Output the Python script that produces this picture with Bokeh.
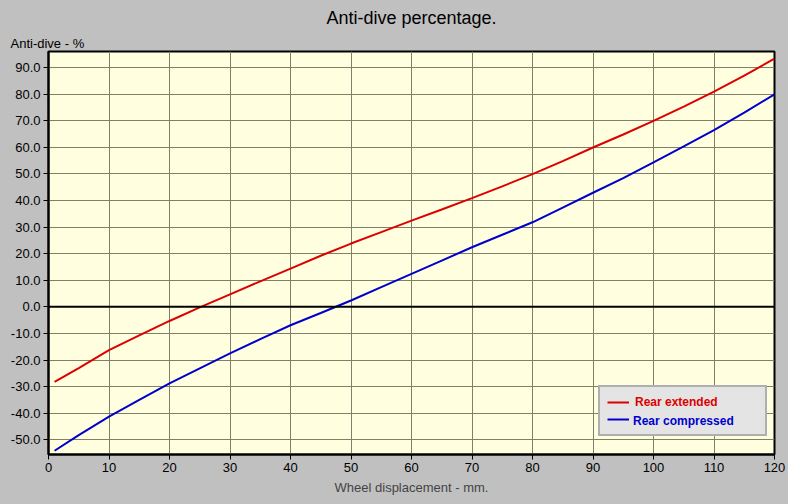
from bokeh.plotting import figure
from bokeh.models import (Range1d, FixedTicker, PrintfTickFormatter, Span, Legend,
                          LegendItem, Title)
from bokeh.embed import file_html
from bokeh.resources import INLINE

# ---- data ----
displacement = [1, 5, 10, 15, 20, 25, 30, 35, 40, 45, 50, 55, 60, 65, 70, 75, 80,
                85, 90, 95, 100, 105, 110, 115, 120]
rear_extended = [-28.2, -23.0, -16.3, -10.7, -5.3, -0.2, 4.7, 9.6, 14.4, 19.2, 23.8,
                 28.1, 32.4, 36.6, 40.9, 45.3, 49.9, 54.8, 59.9, 64.8, 69.9, 75.3,
                 80.9, 86.9, 93.3]
rear_compressed = [-54.1, -48.2, -41.3, -35.0, -28.8, -23.1, -17.5, -12.1, -6.9, -2.3,
                   2.4, 7.4, 12.4, 17.4, 22.4, 27.1, 31.8, 37.3, 42.9, 48.4, 54.3,
                   60.3, 66.4, 73.0, 79.9]
x_ticks = [0, 10, 20, 30, 40, 50, 60, 70, 80, 90, 100, 110, 120]
y_ticks = [-50, -40, -30, -20, -10, 0, 10, 20, 30, 40, 50, 60, 70, 80, 90]

title_text = "Anti-dive percentage."
y_label = "Anti-dive - %"
x_label = "Wheel displacement - mm."
series_names = ["Rear extended", "Rear compressed"]
series_colors = ["#DD0000", "#0000CC"]

FONT = "Liberation Sans"
BG = "#C0C0C0"

p = figure(width=788, height=504, output_backend="svg", toolbar_location=None,
           x_range=Range1d(0, 120), y_range=Range1d(-55.5, 96),
           background_fill_color="#FFFFE0", border_fill_color=BG,
           min_border_left=48, min_border_right=14, min_border_top=0,
           min_border_bottom=50)

p.title.text = title_text
p.title.align = "center"
p.title.text_font = FONT
p.title.text_font_size = "18px"
p.title.text_font_style = "normal"
p.title.text_color = "#000000"
p.title.standoff = 10

ylab = Title(text=y_label, align="left", text_font=FONT,
             text_font_size="13px", text_font_style="normal", text_color="#000000",
             offset=-38, standoff=2)
p.add_layout(ylab, "above")

p.outline_line_color = "#000000"
p.outline_line_width = 2

for ax in (p.xaxis[0], p.yaxis[0]):
    ax.axis_line_color = "#000000"
    ax.axis_line_width = 2
    ax.major_tick_line_color = "#000000"
    ax.major_tick_in = 0
    ax.major_tick_out = 5
    ax.minor_tick_line_color = None
    ax.major_label_text_font = FONT
    ax.major_label_text_font_size = "13px"
    ax.major_label_text_color = "#000000"
    ax.major_label_standoff = 3

p.xaxis.ticker = FixedTicker(ticks=x_ticks)
p.yaxis.ticker = FixedTicker(ticks=y_ticks)
p.yaxis.formatter = PrintfTickFormatter(format="%.1f")
p.xaxis.axis_label = x_label
p.xaxis.axis_label_text_font = FONT
p.xaxis.axis_label_text_font_size = "13px"
p.xaxis.axis_label_text_font_style = "normal"
p.xaxis.axis_label_standoff = 5

p.grid.grid_line_color = "#7F7F6A"
p.grid.grid_line_width = 1

zero = Span(location=0, dimension="width", line_color="#000000", line_width=2)
p.add_layout(zero)

r1 = p.line(displacement, rear_extended, line_color=series_colors[0], line_width=2)
r2 = p.line(displacement, rear_compressed, line_color=series_colors[1], line_width=2)
# invisible twin used only so the second legend draws its text without a second glyph
r2_ghost = p.line(displacement, rear_compressed, line_color=series_colors[1],
                  line_width=2, line_alpha=0)

common = dict(location=(550, 18), margin=0, padding=7, spacing=1,
              glyph_width=22, glyph_height=16, label_height=16, label_width=123,
              label_standoff=6, label_text_font=FONT, label_text_font_size="12px",
              label_text_font_style="bold")

leg1 = Legend(items=[LegendItem(label=series_names[0], renderers=[r1]),
                     LegendItem(label=" ", renderers=[r2])],
              label_text_color=series_colors[0],
              background_fill_color="#E4E4E4", background_fill_alpha=1,
              border_line_color="#7A7A7A", border_line_width=2, **common)
leg2 = Legend(items=[LegendItem(label=series_names[1], renderers=[r2_ghost])],
              label_text_color=series_colors[1],
              background_fill_alpha=0, border_line_alpha=0, **common)
p.add_layout(leg1, "center")
p.add_layout(leg2, "center")

html = file_html(p, INLINE)
html = html.replace("<body>", '<body style="background:#C0C0C0">')
open("out.html", "w").write(html)
